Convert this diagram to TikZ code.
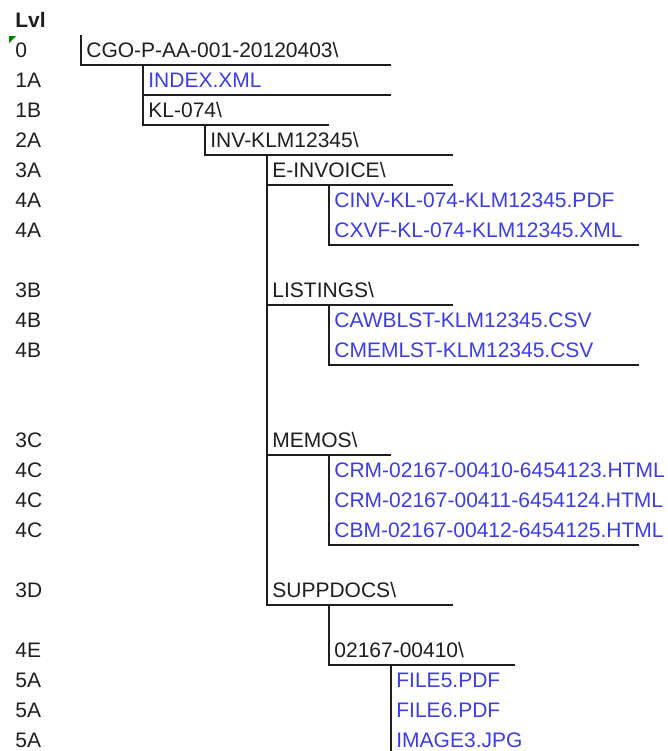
\documentclass[tikz,border=0pt]{standalone}
\usepackage{fontspec}
\setmainfont{Liberation Sans}
\definecolor{filecol}{RGB}{60,60,235}
\definecolor{txt}{RGB}{30,30,30}
\definecolor{bord}{RGB}{30,30,30}
\definecolor{flag}{RGB}{0,128,0}
\begin{document}
\begin{tikzpicture}[x=0.5pt,y=-0.5pt,
  cell/.style={anchor=base west, inner sep=0, text=txt, font=\fontsize{10.5}{12}\selectfont},
  head/.style={cell, font=\fontsize{10.5}{12}\selectfont\bfseries},
  folder/.style={cell},
  file/.style={cell, text=filecol},
  border/.style={draw=bord, line width=1pt}]
\useasboundingbox (0,0) rectangle (668,751);
% level column
\node[head] (lvl) at (15,27) {Lvl};
\fill[flag] (9,36) -- (16,36) -- (9,43) -- cycle;
\foreach \k/\t in {1/0,2/1A,3/1B,4/2A,5/3A,6/4A,7/4A,9/3B,10/4B,11/4B,14/3C,15/4C,16/4C,17/4C,19/3D,21/4E,22/5A,23/5A,24/5A}
  \node[cell] (l\k) at (15,27+30*\k) {\t};
% tree entries
\node[folder] (n1) at (86,57) {CGO-P-AA-001-20120403\textbackslash};
\node[file] (n2) at (148,87) {INDEX.XML};
\node[folder] (n3) at (148,117) {KL-074\textbackslash};
\node[folder] (n4) at (210,147) {INV-KLM12345\textbackslash};
\node[folder] (n5) at (272,177) {E-INVOICE\textbackslash};
\node[file] (n6) at (334,207) {CINV-KL-074-KLM12345.PDF};
\node[file] (n7) at (334,237) {CXVF-KL-074-KLM12345.XML};
\node[folder] (n9) at (272,297) {LISTINGS\textbackslash};
\node[file] (n10) at (334,327) {CAWBLST-KLM12345.CSV};
\node[file] (n11) at (334,357) {CMEMLST-KLM12345.CSV};
\node[folder] (n14) at (272,447) {MEMOS\textbackslash};
\node[file] (n15) at (334,477) {CRM-02167-00410-6454123.HTML};
\node[file] (n16) at (334,507) {CRM-02167-00411-6454124.HTML};
\node[file] (n17) at (334,537) {CBM-02167-00412-6454125.HTML};
\node[folder] (n19) at (272,597) {SUPPDOCS\textbackslash};
\node[folder] (n21) at (334,657) {02167-00410\textbackslash};
\node[file] (n22) at (396,687) {FILE5.PDF};
\node[file] (n23) at (396,717) {FILE6.PDF};
\node[file] (n24) at (396,747) {IMAGE3.JPG};
% cell borders
\draw[border] (81,35) -- (81,65) -- (391,65);
\draw[border] (143,65) -- (143,125) -- (329,125);
\draw[border] (143,95) -- (391,95);
\draw[border] (205,125) -- (205,155) -- (453,155);
\draw[border] (267,155) -- (267,605) -- (453,605);
\draw[border] (267,185) -- (453,185);
\draw[border] (329,185) -- (329,245) -- (639,245);
\draw[border] (267,305) -- (453,305);
\draw[border] (329,305) -- (329,365) -- (639,365);
\draw[border] (267,455) -- (391,455);
\draw[border] (329,455) -- (329,545) -- (639,545);
\draw[border] (329,605) -- (329,665) -- (515,665);
\draw[border] (391,665) -- (391,751);
\end{tikzpicture}
\end{document}
